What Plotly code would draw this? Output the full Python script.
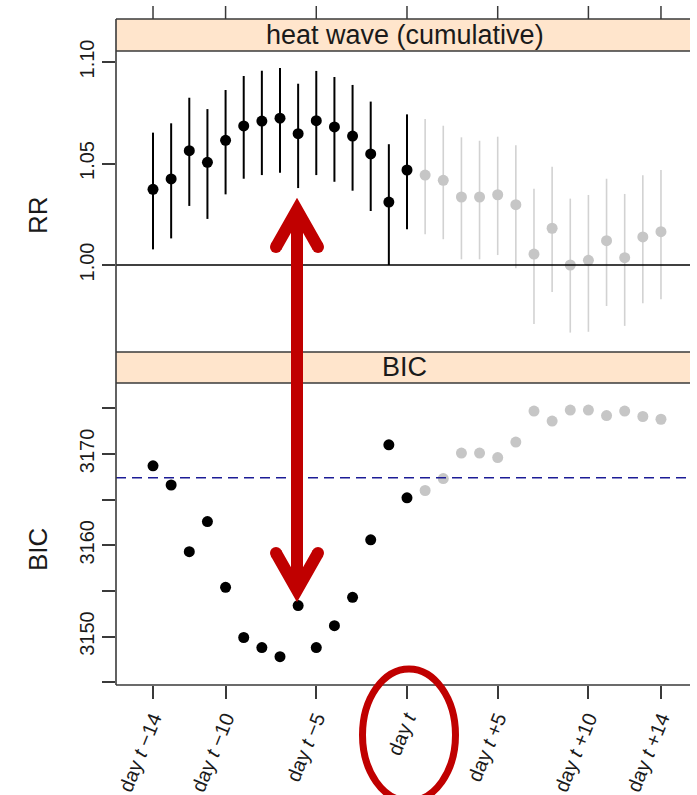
import plotly.graph_objects as go

# Lag (days relative to heat-wave day t); lags up to t are the fitted window,
# later lags are shown greyed out
lags_fit = [-14, -13, -12, -11, -10, -9, -8, -7, -6, -5, -4, -3, -2, -1, 0]
lags_ext = [1, 2, 3, 4, 5, 6, 7, 8, 9, 10, 11, 12, 13, 14]

# Cumulative relative risk with 95% CI
rr_fit = [1.0373, 1.0424, 1.0563, 1.0506, 1.0614, 1.0685, 1.0709, 1.0723,
          1.0647, 1.0711, 1.0680, 1.0635, 1.0547, 1.0310, 1.0468]
rr_fit_lo = [1.0077, 1.0131, 1.0291, 1.0227, 1.0348, 1.0425, 1.0443, 1.0455,
             1.0379, 1.0443, 1.0410, 1.0366, 1.0266, 1.0000, 1.0176]
rr_fit_hi = [1.0652, 1.0698, 1.0824, 1.0768, 1.0862, 1.0931, 1.0957, 1.0970,
             1.0893, 1.0956, 1.0926, 1.0887, 1.0805, 1.0595, 1.0742]

rr_ext = [1.0443, 1.0417, 1.0335, 1.0335, 1.0346, 1.0297, 1.0054, 1.0181,
          1.0000, 1.0023, 1.0120, 1.0036, 1.0138, 1.0164]
rr_ext_lo = [1.0151, 1.0127, 1.0028, 1.0028, 1.0049, 0.9984, 0.9709, 0.9867,
             0.9667, 0.9671, 0.9798, 0.9700, 0.9811, 0.9831]
rr_ext_hi = [1.0719, 1.0686, 1.0629, 1.0612, 1.0632, 1.0590, 1.0376, 1.0484,
             1.0327, 1.0345, 1.0425, 1.0350, 1.0442, 1.0468]

# Model BIC by lag, and reference BIC
bic_fit = [3168.7, 3166.6, 3159.3, 3162.6, 3155.4, 3149.9, 3148.8, 3147.8,
           3153.4, 3148.8, 3151.2, 3154.3, 3160.6, 3171.0, 3165.2]
bic_ext = [3166.0, 3167.3, 3170.1, 3170.1, 3169.6, 3171.3, 3174.7, 3173.6,
           3174.8, 3174.8, 3174.2, 3174.7, 3174.1, 3173.8]
bic_ref = 3167.4

# Axis ticks
x_tickvals = [-14, -10, -5, 0, 5, 10, 14]
x_ticktext = ["day <i>t</i> \u221214", "day <i>t</i> \u221210", "day <i>t</i> \u22125",
              "day <i>t</i>", "day <i>t</i> +5", "day <i>t</i> +10", "day <i>t</i> +14"]
rr_tickvals = [1.00, 1.05, 1.10]
rr_ticktext = ["1.00", "1.05", "1.10"]
bic_tickvals = [3145, 3150, 3155, 3160, 3165, 3170, 3175]
bic_ticktext = ["", "3150", "", "3160", "", "3170", ""]

FONT = "Liberation Sans, Arial, Helvetica, sans-serif"
FRAME = "#3a3a3a"
STRIP = "#FFE5CC"
GREY_PT = "#c6c6c6"
GREY_BAR = "#d2d2d2"
RED = "#C00000"
TXT = "#1a1a1a"

W, H = 697, 795
ML, MR, MT, MB = 116, 7, 19, 110


def px(x):
    return (x - ML) / (W - ML - MR)


def py(y):
    return (H - MB - y) / (H - MT - MB)


top_dom = [py(352), py(51)]
bot_dom = [py(685), py(383)]
top_strip = [py(51), py(19)]
bot_strip = [py(383), py(352)]

fig = go.Figure()

# Relative risk panel
fig.add_trace(go.Scatter(
    x=lags_ext, y=rr_ext, mode="markers", xaxis="x", yaxis="y",
    marker=dict(color=GREY_PT, size=11),
    error_y=dict(type="data", symmetric=False,
                 array=[h - v for h, v in zip(rr_ext_hi, rr_ext)],
                 arrayminus=[v - l for v, l in zip(rr_ext, rr_ext_lo)],
                 color=GREY_BAR, thickness=1.6, width=0),
    showlegend=False, hoverinfo="skip"))
fig.add_trace(go.Scatter(
    x=lags_fit, y=rr_fit, mode="markers", xaxis="x", yaxis="y",
    marker=dict(color="black", size=11),
    error_y=dict(type="data", symmetric=False,
                 array=[h - v for h, v in zip(rr_fit_hi, rr_fit)],
                 arrayminus=[v - l for v, l in zip(rr_fit, rr_fit_lo)],
                 color="black", thickness=2, width=0),
    showlegend=False, hoverinfo="skip"))

# BIC panel
fig.add_trace(go.Scatter(
    x=lags_ext, y=bic_ext, mode="markers", xaxis="x2", yaxis="y2",
    marker=dict(color=GREY_PT, size=11), showlegend=False, hoverinfo="skip"))
fig.add_trace(go.Scatter(
    x=lags_fit, y=bic_fit, mode="markers", xaxis="x2", yaxis="y2",
    marker=dict(color="black", size=11), showlegend=False, hoverinfo="skip"))

xrange = [-16.04, 15.6]
axis_common = dict(showgrid=False, zeroline=False, showline=False, automargin=False)
ytickfont = dict(family=FONT, size=20, color=TXT)
xtickfont = dict(family=FONT, size=20, color=TXT)

fig.update_layout(
    width=W, height=H,
    margin=dict(l=ML, r=MR, t=MT, b=MB, pad=0, autoexpand=False),
    paper_bgcolor="white", plot_bgcolor="white",
    xaxis=dict(domain=[0, 1], range=xrange, anchor="y", showticklabels=False,
               ticks="", **axis_common),
    yaxis=dict(domain=top_dom, range=[0.95714, 1.10542], anchor="x",
               tickvals=rr_tickvals, ticktext=rr_ticktext, ticks="outside",
               ticklen=13, tickwidth=1.5, tickcolor=FRAME, tickangle=-90,
               tickfont=ytickfont, **axis_common),
    xaxis2=dict(domain=[0, 1], range=xrange, anchor="y2",
                tickvals=x_tickvals, ticktext=x_ticktext, ticks="outside",
                ticklen=13, tickwidth=1.5, tickcolor=FRAME, tickangle=-68,
                tickfont=xtickfont, **axis_common),
    yaxis2=dict(domain=bot_dom, range=[3144.70, 3177.77], anchor="x2",
                tickvals=bic_tickvals, ticktext=bic_ticktext, ticks="outside",
                ticklen=13, tickwidth=1.5, tickcolor=FRAME, tickangle=-90,
                tickfont=ytickfont, **axis_common),
)

shapes = []
# strip backgrounds
for s in (top_strip, bot_strip):
    shapes.append(dict(type="rect", xref="paper", yref="paper", x0=0, x1=1,
                       y0=s[0], y1=s[1], fillcolor=STRIP, line=dict(width=0),
                       layer="below"))
# reference lines
shapes.append(dict(type="line", xref="paper", yref="y", x0=0, x1=1,
                   y0=1.0, y1=1.0, line=dict(color="black", width=1.3)))
shapes.append(dict(type="line", xref="paper", yref="y2", x0=0, x1=1,
                   y0=bic_ref, y1=bic_ref,
                   line=dict(color="#1c1c96", width=1.4, dash="10px,6px")))
# panel frames
for yy in (top_strip[1], top_strip[0], bot_strip[1], bot_strip[0], bot_dom[0]):
    shapes.append(dict(type="line", xref="paper", yref="paper", x0=0, x1=1,
                       y0=yy, y1=yy, line=dict(color=FRAME, width=1.6)))
shapes.append(dict(type="line", xref="paper", yref="paper", x0=0, x1=0,
                   y0=0, y1=1, line=dict(color=FRAME, width=1.6)))
# tick marks above the top strip
for tv in x_tickvals:
    shapes.append(dict(type="line", xref="x", yref="paper", x0=tv, x1=tv,
                       y0=1.0, y1=py(6), line=dict(color=FRAME, width=1.5)))

# red double-headed arrow
aw = 12
shapes.append(dict(type="line", xref="paper", yref="paper",
                   x0=px(297), x1=px(297), y0=py(212), y1=py(587),
                   line=dict(color=RED, width=aw)))
shapes.append(dict(type="path", xref="paper", yref="paper",
                   path=f"M {px(276)},{py(247)} L {px(297)},{py(210)} L {px(318)},{py(247)}",
                   line=dict(color=RED, width=aw)))
shapes.append(dict(type="path", xref="paper", yref="paper",
                   path=f"M {px(276)},{py(553)} L {px(297)},{py(590)} L {px(318)},{py(553)}",
                   line=dict(color=RED, width=aw)))
for cx, cy in ((276, 247), (318, 247), (276, 553), (318, 553)):
    shapes.append(dict(type="circle", xref="paper", yref="paper",
                       x0=px(cx - aw / 2), x1=px(cx + aw / 2),
                       y0=py(cy + aw / 2), y1=py(cy - aw / 2),
                       fillcolor=RED, line=dict(width=0)))
# red ellipse around day t
shapes.append(dict(type="circle", xref="paper", yref="paper",
                   x0=px(362.5), x1=px(455.5), y0=py(801), y1=py(669),
                   line=dict(color=RED, width=7)))
fig.update_layout(shapes=shapes)

annotations = [
    dict(text="heat wave (cumulative)", x=0.503, y=(top_strip[0] + top_strip[1]) / 2,
         xref="paper", yref="paper", showarrow=False,
         xanchor="center", yanchor="middle",
         font=dict(family=FONT, size=27, color=TXT)),
    dict(text="BIC", x=0.503, y=(bot_strip[0] + bot_strip[1]) / 2,
         xref="paper", yref="paper", showarrow=False,
         xanchor="center", yanchor="middle",
         font=dict(family=FONT, size=27, color=TXT)),
    dict(text="RR", x=px(38), y=py(215), xref="paper", yref="paper",
         showarrow=False, textangle=-90, xanchor="center", yanchor="middle",
         font=dict(family=FONT, size=26, color=TXT)),
    dict(text="BIC", x=px(38), y=py(550), xref="paper", yref="paper",
         showarrow=False, textangle=-90, xanchor="center", yanchor="middle",
         font=dict(family=FONT, size=26, color=TXT)),
]
fig.update_layout(annotations=annotations)

fig.write_html("out.html")
